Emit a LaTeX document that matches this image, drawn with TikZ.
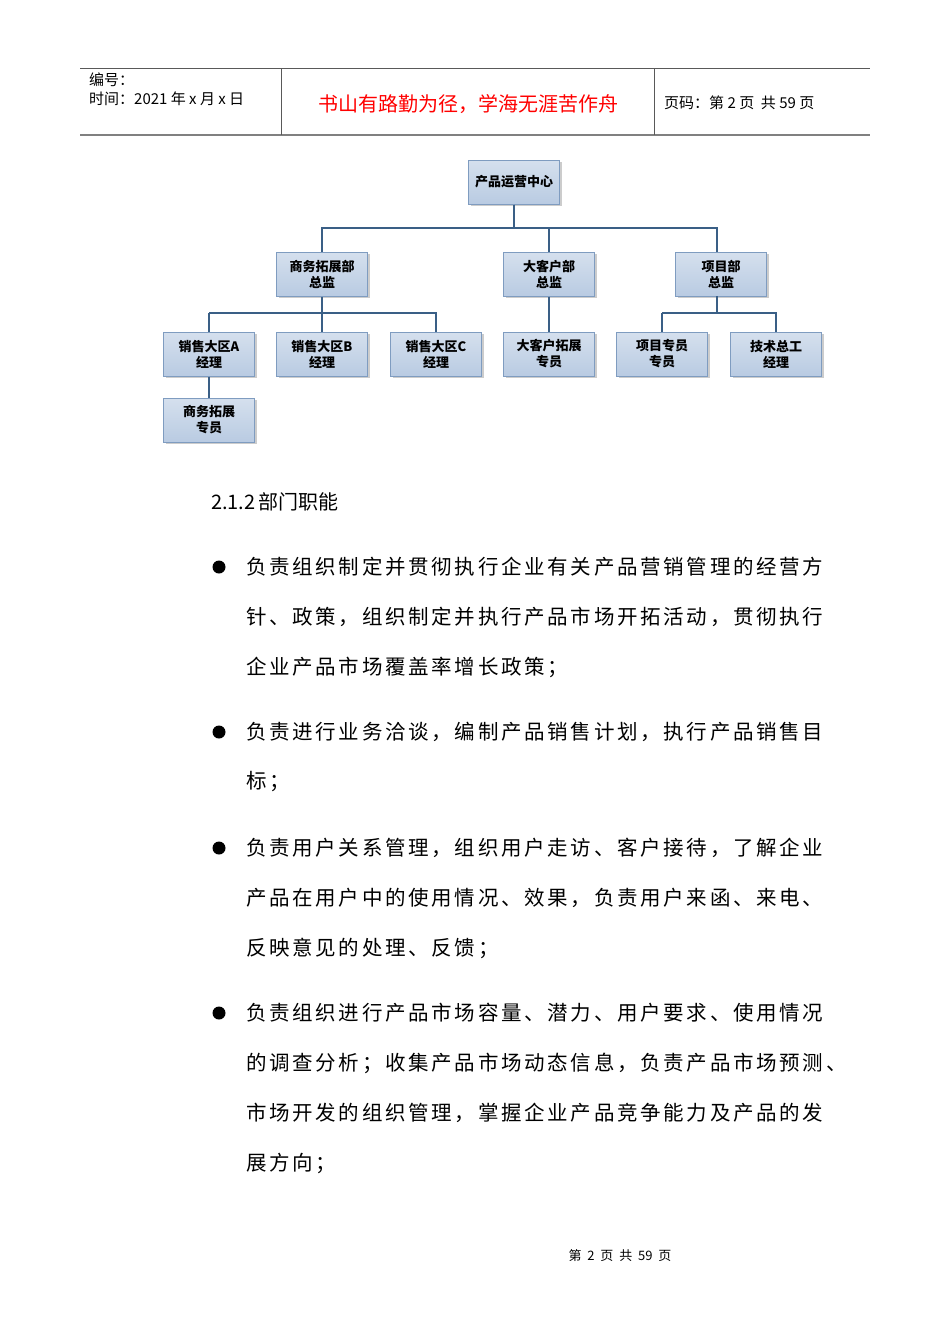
\documentclass[tikz,border=0pt]{standalone}
\usepackage{fontspec}
\setmainfont{Liberation Sans}
\newfontfamily\cjk{Noto Sans CJK SC}
\usetikzlibrary{shadows}
\definecolor{boxb}{HTML}{7F9CC0}
\definecolor{boxf}{HTML}{B9CBE2}
\definecolor{linec}{HTML}{3A5F86}
\def\spr#1{\ifx#1\relax\else\makebox[23.2pt][l]{#1}\expandafter\spr\fi}
\tikzset{
 org/.style={draw=boxb,line width=1pt,top color=boxf!60!white,bottom color=boxf,minimum width=91pt,minimum height=44pt,align=center,font=\cjk\bfseries\fontsize{13}{16}\selectfont,inner sep=1pt,drop shadow={shadow xshift=2pt,shadow yshift=-2pt,opacity=0.4}},
 conn/.style={draw=linec,line width=1.2pt},
 body/.style={anchor=west,inner sep=0pt,font=\cjk\fontsize{20.5}{20}\selectfont},
 hdr/.style={anchor=west,inner sep=0pt,font=\cjk\fontsize{15}{15}\selectfont}
}
\begin{document}
\begin{tikzpicture}[x=1pt,y=-1pt]
\useasboundingbox (0,0) rectangle (950,1344);
% header
\draw[line width=0.8pt,gray!70!black] (80,68) -- (870,68);
\draw[line width=1.5pt,gray] (80,135) -- (870,135);
\draw[line width=0.8pt,gray!70!black] (281,68) -- (281,135) (654,68) -- (654,135);
\node[hdr] (h1) at (89,80) {编号：};
\node[hdr] (h2) at (89,99) {时间：2021 年 x 月 x 日};
\node[font=\cjk\fontsize{20}{20}\selectfont,text=red] (h3) at (468,104) {书山有路勤为径，学海无涯苦作舟};
\node[hdr] (h4) at (664,103) {页码：第 2 页\ \ 共 59 页};
% chart
\node[org] (top) at (514,182) {产品运营中心};
\node[org] (d1) at (322,274) {商务拓展部\\总监};
\node[org] (d2) at (549,274) {大客户部\\总监};
\node[org] (d3) at (721,274) {项目部\\总监};
\node[org] (a) at (209,354) {销售大区A\\经理};
\node[org] (b) at (322,354) {销售大区B\\经理};
\node[org] (c) at (436,354) {销售大区C\\经理};
\node[org] (e) at (549,354) {大客户拓展\\专员};
\node[org] (f) at (662,354) {项目专员\\专员};
\node[org] (g) at (776,354) {技术总工\\经理};
\node[org] (s) at (209,420) {商务拓展\\专员};
\draw[conn] (top.south) |- (322,228) -- (d1.north);
\draw[conn] (top.south) |- (717,228) -- (717,252);
\draw[conn] (549,228) -- (d2.north);
\draw[conn] (d1.south) -- (b.north);
\draw[conn] (209,313) -| (a.north);
\draw[conn] (209,313) -| (c.north);
\draw[conn] (d2.south) -- (e.north);
\draw[conn] (717,296) -- (717,313);
\draw[conn] (662,313) -| (f.north);
\draw[conn] (662,313) -| (g.north);
\draw[conn] (a.south) -- (s.north);
% text
\node[anchor=west,inner sep=0pt,font=\cjk\fontsize{20}{20}\selectfont] (t0) at (211,502) {2.1.2\,部门职能};
\foreach \y in {567,732,848,1013} \fill (219,\y) circle (6.5pt);
\node[body] (l1) at (246,567) {\spr 负责组织制定并贯彻执行企业有关产品营销管理的经营方\relax};
\node[body] (l2) at (246,617) {\spr 针、政策，组织制定并执行产品市场开拓活动，贯彻执行\relax};
\node[body] (l3) at (246,667) {\spr 企业产品市场覆盖率增长政策；\relax};
\node[body] (l4) at (246,732) {\spr 负责进行业务洽谈，编制产品销售计划，执行产品销售目\relax};
\node[body] (l5) at (246,782) {\spr 标；\relax};
\node[body] (l6) at (246,848) {\spr 负责用户关系管理，组织用户走访、客户接待，了解企业\relax};
\node[body] (l7) at (246,898) {\spr 产品在用户中的使用情况、效果，负责用户来函、来电、\relax};
\node[body] (l8) at (246,948) {\spr 反映意见的处理、反馈；\relax};
\node[body] (l9) at (246,1013) {\spr 负责组织进行产品市场容量、潜力、用户要求、使用情况\relax};
\node[body] (l10) at (246,1063) {\spr 的调查分析；收集产品市场动态信息，负责产品市场预测、\relax};
\node[body] (l11) at (246,1113) {\spr 市场开发的组织管理，掌握企业产品竞争能力及产品的发\relax};
\node[body] (l12) at (246,1163) {\spr 展方向；\relax};
\node[font=\cjk\fontsize{13}{13}\selectfont] (ft) at (620,1256) {第\ \ 2\ \ 页\ \ 共\ \ 59\ \ 页};
\end{tikzpicture}
\end{document}
